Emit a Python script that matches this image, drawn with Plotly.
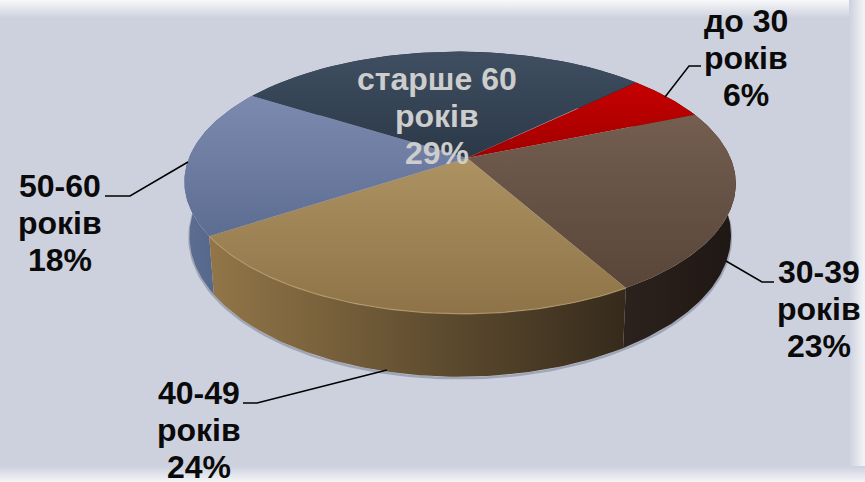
import numpy as np
import plotly.graph_objects as go

# Data (clockwise from the red slice)
age_groups = ["до 30 років", "30-39 років", "40-49 років", "50-60 років", "старше 60 років"]
shares = [6, 23, 24, 18, 29]

# Colors: (top start, top stop, wall start, wall stop)
SLICE_COLORS = [
    ("#c60000", "#a20000", "#7a0000", "#5a0000"),
    ("#735e50", "#594639", "#2c221d", "#1f1714"),
    ("#ad9362", "#8d7347", "#927648", "#352a1b"),
    ("#7c8aaf", "#5d6d91", "#5d6e93", "#4d5e84"),
    ("#3f4f61", "#2b3848", "#2e3c4e", "#263242"),
]
BG = "#cdd1de"
WIDTH, HEIGHT = 865, 482

# Projection of the pie disc onto the picture
TIP_X, TIP_Y = 467, 158
A, C, B, D, K, M = 270, 18, 126, 10, 0.19, 0.012
START_DEG = 41.9
DEPTH = 51
INSET = 0.982


def rim(theta_deg):
    t = np.radians(theta_deg)
    w = 1 + K * np.cos(t) + M * np.sin(t)
    x = (A * np.sin(t) + C * np.cos(t)) / w
    y = (-B * np.cos(t) + D * np.sin(t)) / w
    return TIP_X + x, TIP_Y + y, w


def floor(theta_deg):
    x, y, w = rim(theta_deg)
    return TIP_X + (x - TIP_X) * INSET, y + DEPTH / w


def poly(fig, x, y, c0, c1, kind, start, stop):
    fig.add_trace(go.Scatter(
        x=x, y=y, mode="lines", line=dict(width=0), fill="toself",
        fillgradient=dict(type=kind, start=start, stop=stop,
                          colorscale=[[0, c0], [1, c1]]),
        hoverinfo="skip", showlegend=False,
    ))


fig = go.Figure()

# Pale band round the edges of the slide
poly(fig, [0, WIDTH, WIDTH, 0], [0, 0, 18, 18], "#f8f9fa", BG, "vertical", 0, 18)
poly(fig, [849, WIDTH, WIDTH, 849], [0, 0, HEIGHT, HEIGHT], BG, "#f4f5f8", "horizontal", 849, WIDTH)
poly(fig, [0, WIDTH, WIDTH, 0], [466, 466, HEIGHT, HEIGHT], BG, "#f4f5f8", "vertical", 466, HEIGHT)

# Slice boundaries from the shares
edges = START_DEG + np.cumsum([0] + [s * 3.6 for s in shares])

# Soft shadow under the wall
t_all = np.linspace(90, 270, 120)
fx, fy = floor(t_all)
fig.add_trace(go.Scatter(
    x=fx, y=fy + 1.5, mode="lines", line=dict(color="rgba(90,100,120,0.4)", width=2.5),
    hoverinfo="skip", showlegend=False,
))

# Walls, back to front
for i in [4, 0, 3, 1, 2]:
    t = np.linspace(edges[i], edges[i + 1], 80)
    rx, ry, _ = rim(t)
    fx, fy = floor(t)
    x = np.concatenate([rx, fx[::-1]])
    y = np.concatenate([ry, fy[::-1]])
    c = SLICE_COLORS[i]
    poly(fig, x, y, c[2], c[3], "horizontal", x.min(), x.max())

# Top faces
for i in range(len(shares)):
    t = np.linspace(edges[i], edges[i + 1], 80)
    rx, ry, _ = rim(t)
    x = np.concatenate([[TIP_X], rx, [TIP_X]])
    y = np.concatenate([[TIP_Y], ry, [TIP_Y]])
    c = SLICE_COLORS[i]
    poly(fig, x, y, c[0], c[1], "vertical", y.min(), y.max())

# Light edge along the front of the tan slice
t = np.linspace(edges[2], edges[3], 80)
rx, ry, _ = rim(t)
fig.add_trace(go.Scatter(x=rx, y=ry, mode="lines", line=dict(color="rgba(185,160,111,0.7)", width=1.2),
                         hoverinfo="skip", showlegend=False))

# Leader lines
leaders = [
    ([665, 689, 701], [97, 66, 66]),
    ([726, 762, 774], [261, 282, 282]),
    ([387, 257, 243], [370, 403, 403]),
    ([188, 130, 105], [162, 196, 196]),
]
for lx, ly in leaders:
    fig.add_trace(go.Scatter(x=lx, y=ly, mode="lines", line=dict(color="black", width=1.5),
                             hoverinfo="skip", showlegend=False))

# Labels, one line at a time because the line pitch is tighter than the default
label_pos = [(746, 21), (819, 272), (198.5, 393), (60, 186), (437, 79)]
annotations = []
for i, (name, share) in enumerate(zip(age_groups, shares)):
    head, tail = name.rsplit(" ", 1)
    for j, line in enumerate([head, tail, f"{share}%"]):
        annotations.append(dict(
            x=label_pos[i][0], y=label_pos[i][1] + j * 37, text=f"<b>{line}</b>", showarrow=False,
            xanchor="center", yanchor="middle",
            font=dict(family="Liberation Sans", size=32,
                      color="#cdcdcd" if i == 4 else "#0a0a0a"),
        ))

fig.update_layout(
    width=WIDTH, height=HEIGHT,
    margin=dict(l=0, r=0, t=0, b=0),
    paper_bgcolor=BG, plot_bgcolor=BG,
    showlegend=False,
    xaxis=dict(range=[0, WIDTH], visible=False, fixedrange=True),
    yaxis=dict(range=[HEIGHT, 0], visible=False, fixedrange=True),
    annotations=annotations,
)

# The page's default body margin would push the figure 8px down and right
fig.write_html("out.html", config=dict(displayModeBar=False),
               post_script="document.body.style.margin='0';document.body.style.overflow='hidden';")
